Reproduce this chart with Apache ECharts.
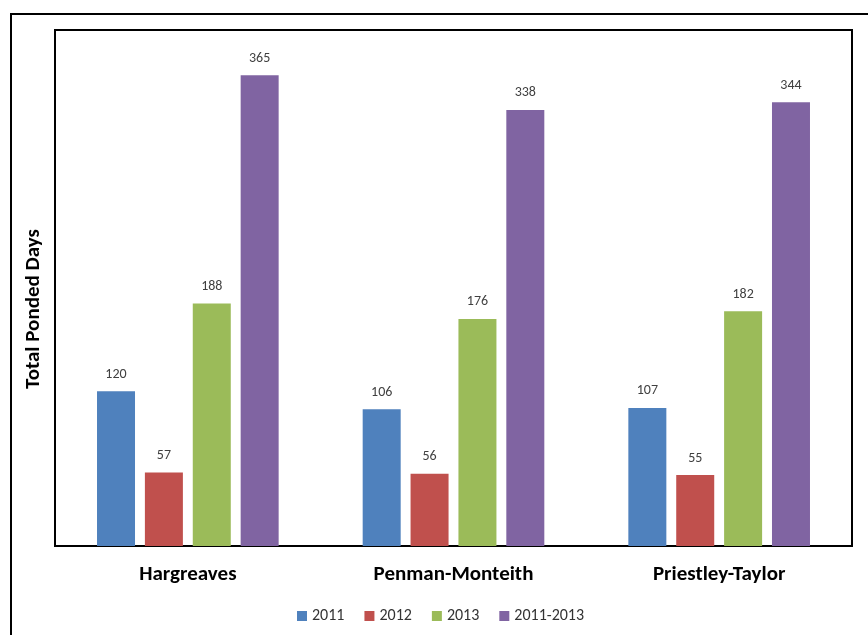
<!DOCTYPE html>
<html>
<head>
<meta charset="utf-8">
<script src="https://cdn.jsdelivr.net/npm/echarts@6/dist/echarts.min.js"></script>
<style>
  html, body { margin: 0; padding: 0; background: #fff; }
  #main { width: 868px; height: 635px; }
</style>
</head>
<body>
<div id="main"></div>
<script>
var methods = ['Hargreaves', 'Penman-Monteith', 'Priestley-Taylor'];
var seriesNames = ['2011', '2012', '2013', '2011-2013'];
var days2011 = [120, 106, 107];
var days2012 = [57, 56, 55];
var days2013 = [188, 176, 182];
var daysAll = [365, 338, 344];
var colors = ['#4F81BD', '#C0504D', '#9BBB59', '#8064A2'];

var font = 'Carlito, "Noto Sans", sans-serif';
var dom = document.getElementById('main');
var chart = echarts.init(dom);

function barSeries(name, data) {
    return {
        name: name,
        type: 'bar',
        data: data,
        barWidth: 38,
        barGap: '26%',
        label: {
            show: true,
            position: 'top',
            distance: 10,
            color: '#404040',
            fontSize: 14,
            fontFamily: font
        }
    };
}

var option = {
    animation: false,
    color: colors,
    textStyle: { fontFamily: font },
    graphic: [
        {
            type: 'rect',
            shape: { x: 11, y: 14, width: 880, height: 650 },
            style: { fill: 'none', stroke: '#000', lineWidth: 2 }
        },
        {
            type: 'text',
            x: 34,
            y: 309,
            rotation: Math.PI / 2,
            style: {
                text: 'Total Ponded Days',
                fontSize: 21,
                fontWeight: 'bold',
                fontFamily: font,
                fill: '#000',
                align: 'center',
                verticalAlign: 'middle'
            }
        }
    ],
    legend: {
        data: seriesNames,
        bottom: 6,
        left: 292,
        itemWidth: 10,
        itemHeight: 10,
        itemGap: 20,
        icon: 'rect',
        textStyle: { color: '#333', fontSize: 16, fontFamily: font }
    },
    grid: {
        left: 55,
        right: 16,
        top: 30,
        bottom: 89,
        show: true,
        borderColor: '#000',
        borderWidth: 2,
        containLabel: false
    },
    xAxis: {
        type: 'category',
        data: methods,
        axisLine: { show: false },
        axisTick: { show: false },
        axisLabel: {
            margin: 18,
            color: '#000',
            fontSize: 21,
            fontWeight: 'bold',
            fontFamily: font
        }
    },
    yAxis: {
        type: 'value',
        min: 0,
        max: 400,
        axisLine: { show: false },
        axisTick: { show: false },
        axisLabel: { show: false },
        splitLine: { show: false }
    },
    series: [
        barSeries(seriesNames[0], days2011),
        barSeries(seriesNames[1], days2012),
        barSeries(seriesNames[2], days2013),
        barSeries(seriesNames[3], daysAll)
    ]
};
chart.setOption(option);
</script>
</body>
</html>
